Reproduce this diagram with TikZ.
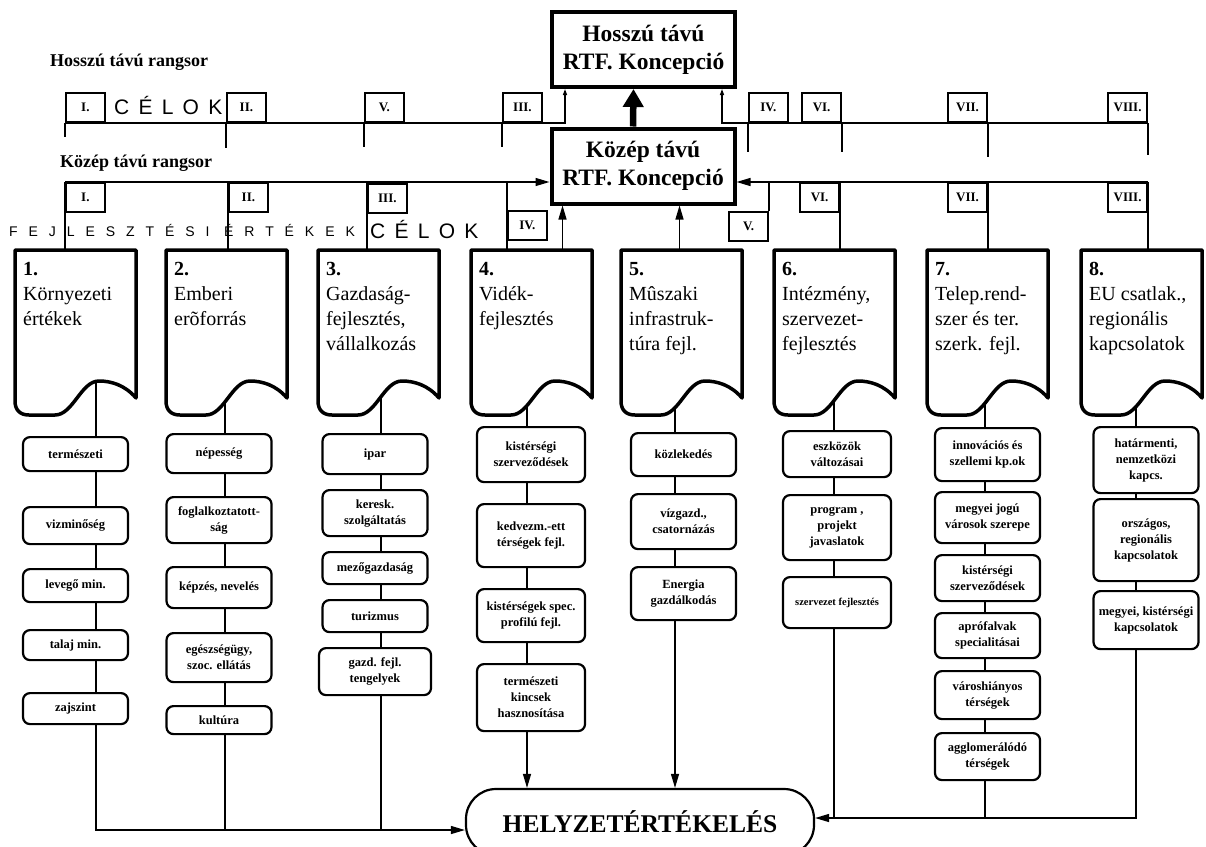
\documentclass[tikz,border=0pt]{standalone}
\usepackage{fontspec}
\setmainfont{Liberation Serif}
\newfontfamily\celokfont[LetterSpace=44]{Liberation Sans}
\newfontfamily\ertekfont[LetterSpace=78]{Liberation Sans}
\usetikzlibrary{arrows.meta,positioning,calc}
\tikzset{
    link/.style={line width=1.3pt},
    tip/.style={-{Triangle[length=14pt, width=8pt]}},
    smalltip/.style={-{Triangle[length=6pt, width=4pt]}},
    bigarrow/.style={-{Triangle[length=18pt, width=20pt]}, line width=6.5pt},
    concept/.style={draw, line width=4pt, minimum width=183pt, minimum height=75pt, align=center, font=\fontsize{23.5}{28}\selectfont\bfseries},
    rank/.style={draw, line width=1.8pt, minimum width=39pt, minimum height=29pt, inner sep=0pt, font=\fontsize{13}{15}\selectfont\bfseries},
    item/.style={draw, anchor=north, line width=2.2pt, rounded corners=7pt, fill=white, minimum width=105pt, align=center, inner sep=2pt, font=\fontsize{12.5}{16}\selectfont\bfseries},
    coltext/.style={anchor=north west, inner sep=0pt, align=left, font=\fontsize{20}{25}\selectfont},
    docline/.style={line width=3.5pt, line join=round, fill=white},
    rangsor/.style={anchor=west, inner sep=0pt, font=\fontsize{18}{21}\selectfont\bfseries},
    celok/.style={anchor=west, inner sep=0pt, font=\celokfont\fontsize{21}{24}\selectfont}
}
\newcommand{\docbox}[3]{%
    \begin{scope}[xshift=#2pt]
        \draw[docline] (0,250) -- (121,250) -- (121,398)
            .. controls (110,385) and (96,381) .. (84,381)
            .. controls (66,381) and (58,415) .. (40,415)
            -- (14,415) .. controls (5,415) and (0,410) .. (0,401) -- cycle;
        \node[inner sep=0pt, minimum width=121pt, minimum height=148pt, anchor=north] (#1) at (60.5,250) {};
        \node[coltext] (#1-label) at (8,262) {#3};
    \end{scope}}

\begin{document}
\begin{tikzpicture}[x=1pt, y=-1pt]
\useasboundingbox (0,0) rectangle (1206,846);

% concepts
\node[concept] (hosszu) at (643.5,49.5) {Hosszú távú\\RTF. Koncepció};
\node[concept] (kozep) at (643,166) {Közép távú\\RTF. Koncepció};
\node[rangsor] (hosszurang) at (50,62) {Hosszú távú rangsor};
\node[rangsor] (kozeprang) at (60,163) {Közép távú rangsor};

% long term goals
\node[rank, anchor=south west] (h1) at (65,123) {I.};
\node[rank, anchor=south west] (h2) at (226,123) {II.};
\node[rank, anchor=south west] (h5) at (364,123) {V.};
\node[rank, anchor=south west] (h3) at (502,123) {III.};
\node[rank, anchor=south west] (h4) at (748,123) {IV.};
\node[rank, anchor=south east] (h6) at (842,123) {VI.};
\node[rank, anchor=south east] (h7) at (988,123) {VII.};
\node[rank, anchor=south east] (h8) at (1148,123) {VIII.};
\node[celok] (celok1) at (114,105) {CÉLOK};

% middle term goals
\node[rank, anchor=north west] (k1) at (65,182) {I.};
\node[rank, anchor=north west] (k2) at (228,182) {II.};
\node[rank, anchor=north west] (k3) at (367,183) {III.};
\node[rank, anchor=north west] (k4) at (507,210) {IV.};
\node[rank, anchor=north east] (k5) at (769,211) {V.};
\node[rank, anchor=north east] (k6) at (840,182) {VI.};
\node[rank, anchor=north east] (k7) at (988,182) {VII.};
\node[rank, anchor=north east] (k8) at (1148,182) {VIII.};
\node[anchor=west, inner sep=0pt, font=\ertekfont\fontsize{14}{16}\selectfont] (ertekek) at (9,230) {FEJLESZTÉSI ÉRTÉKEK};
\node[celok] (celok2) at (370,229) {CÉLOK};

% fields
\docbox{c1}{15}{\textbf{1.}\\Környezeti\\értékek}
\docbox{c2}{166}{\textbf{2.}\\Emberi\\erõforrás}
\docbox{c3}{318}{\textbf{3.}\\Gazdaság-\\fejlesztés,\\vállalkozás}
\docbox{c4}{471}{\textbf{4.}\\Vidék-\\fejlesztés}
\docbox{c5}{621}{\textbf{5.}\\Mûszaki\\infrastruk-\\túra fejl.}
\docbox{c6}{774}{\textbf{6.}\\Intézmény,\\szervezet-\\fejlesztés}
\docbox{c7}{927}{\textbf{7.}\\Telep.rend-\\szer és ter.\\szerk. fejl.}
\docbox{c8}{1081}{\textbf{8.}\\EU csatlak.,\\regionális\\kapcsolatok}

% items
\node[item, minimum height=34pt] (i11) at (75.5,436) {természeti};
\node[item, minimum height=37pt] (i12) at (75.5,506) {vizminőség};
\node[item, minimum height=33pt] (i13) at (75.5,568) {levegő min.};
\node[item, minimum height=30pt] (i14) at (75.5,629) {talaj min.};
\node[item, minimum height=31pt] (i15) at (75.5,692) {zajszint};

\node[item, minimum height=39pt] (i21) at (219,433) {népesség};
\node[item, minimum height=46pt] (i22) at (219,496) {foglalkoztatott-\\ság};
\node[item, minimum height=41pt] (i23) at (219,566) {képzés, nevelés};
\node[item, minimum height=49pt] (i24) at (219,632) {egészségügy,\\szoc. ellátás};
\node[item, minimum height=28pt] (i25) at (219,705) {kultúra};

\node[item, minimum height=40pt] (i31) at (375,433) {ipar};
\node[item, minimum height=46pt] (i32) at (375,489) {keresk.\\szolgáltatás};
\node[item, minimum height=32pt] (i33) at (375,551) {mezőgazdaság};
\node[item, minimum height=32pt] (i34) at (375,599) {turizmus};
\node[item, minimum height=47pt, minimum width=112pt] (i35) at (375,647) {gazd. fejl.\\tengelyek};

\node[item, minimum height=55pt, minimum width=108pt] (i41) at (531,426) {kistérségi\\szerveződések};
\node[item, minimum height=63pt, minimum width=108pt] (i42) at (531,503) {kedvezm.-ett\\térségek fejl.};
\node[item, minimum height=53pt, minimum width=108pt] (i43) at (531,588) {kistérségek spec.\\profilú fejl.};
\node[item, minimum height=67pt, minimum width=108pt] (i44) at (531,663) {természeti\\kincsek\\hasznosítása};

\node[item, minimum height=43pt] (i51) at (683.5,432) {közlekedés};
\node[item, minimum height=55pt] (i52) at (683.5,493) {vízgazd.,\\csatornázás};
\node[item, minimum height=53pt] (i53) at (683.5,566) {Energia\\gazdálkodás};

\node[item, minimum height=46pt, minimum width=108pt] (i61) at (837,430) {eszközök\\változásai};
\node[item, minimum height=65pt, minimum width=108pt] (i62) at (837,494) {program ,\\projekt\\javaslatok};
\node[item, minimum height=51pt, minimum width=108pt, font=\fontsize{10.5}{13}\selectfont\bfseries] (i63) at (837,576) {szervezet fejlesztés};

\node[item, minimum height=53pt] (i71) at (987.5,427) {innovációs és\\szellemi kp.ok};
\node[item, minimum height=51pt] (i72) at (987.5,491) {megyei jogú\\városok szerepe};
\node[item, minimum height=46pt] (i73) at (987.5,554) {kistérségi\\szerveződések};
\node[item, minimum height=45pt] (i74) at (987.5,612) {aprófalvak\\specialitásai};
\node[item, minimum height=48pt] (i75) at (987.5,670) {városhiányos\\térségek};
\node[item, minimum height=47pt] (i76) at (987.5,732) {agglomerálódó\\térségek};

\node[item, minimum height=66pt] (i81) at (1146,426) {határmenti,\\nemzetközi\\kapcs.};
\node[item, minimum height=82pt] (i82) at (1146,498) {országos,\\regionális\\kapcsolatok};
\node[item, minimum height=58pt] (i83) at (1146,590) {megyei, kistérségi\\kapcsolatok};

\node[draw, line width=2.2pt, rounded corners=30pt, minimum width=348pt, minimum height=66pt, font=\fontsize{25.5}{30}\selectfont\bfseries] (helyzet) at (640,822) {HELYZETÉRTÉKELÉS};
\coordinate (hin) at ([yshift=-8pt]helyzet.west);
\coordinate (hout) at ([yshift=4pt]helyzet.east);

% hang points under the fields
\coordinate (j1) at (96,382);
\coordinate (j2) at (225,400);
\coordinate (j3) at (381,397);
\coordinate (j4) at (527,405);
\coordinate (j5) at (675,407);
\coordinate (j6) at (834,399);
\coordinate (j7) at (985,402);
\coordinate (j8) at (1136,406);
\coordinate (u4) at ([xshift=31pt]c4.north);
\coordinate (u5) at ([xshift=-2pt]c5.north);

% long term line
\draw[link, smalltip] (h1.south west) -| ([xshift=15pt]hosszu.south west);
\draw[link, smalltip] (h8.south east) -| ([xshift=-15pt]hosszu.south east);
\draw[link] (h1.south west) -- ++(0,14);
\draw[link] (h2.south west) -- ++(0,25);
\draw[link] (h5.south west) -- ++(0,24);
\draw[link] (h3.south west) -- ++(0,24);
\draw[link] (h4.south west) -- ++(0,29);
\draw[link] (h6.south east) -- ++(0,29);
\draw[link] (h7.south east) -- ++(0,34);
\draw[link] (h8.south east) -- ++(0,32);
\draw[bigarrow] ([xshift=-10pt]kozep.north) -- ([xshift=-10pt]hosszu.south);

% middle term line
\draw[link, tip] (k1.north west) -- ([yshift=-16pt]kozep.west);
\draw[link, tip] (k8.north east) -- ([yshift=-16pt]kozep.east);
\draw[link] (k1.north west) -- (k1.north west |- c1.north);
\draw[link] (k2.north west |- k1.north west) -- (k2.north west |- c2.north);
\draw[link] (k3.north west |- k1.north west) -- (k3.north west |- c3.north);
\draw[link] (k4.north west |- k1.north west) -- (k4.north west |- c4.north);
\draw[link] (k5.north east |- k1.north west) -- (k5.north east);
\draw[link] (k6.north east) -- (k6.north east |- c6.north);
\draw[link] (k7.north east) -- (k7.north east |- c7.north);
\draw[link] (k8.north east) -- (k8.north east |- c8.north);
\draw[link, tip] (u4) -- (u4 |- kozep.south);
\draw[link, tip] (u5) -- (u5 |- kozep.south);

% item chains
\draw[link] (j1) -- (j1 |- i11.north) (i11.south -| j1) -- (i12.north -| j1)
    (i12.south -| j1) -- (i13.north -| j1) (i13.south -| j1) -- (i14.north -| j1)
    (i14.south -| j1) -- (i15.north -| j1);
\draw[link, tip] (i15.south -| j1) -- (j1 |- hin) -- (hin);
\draw[link] (j2) -- (j2 |- i21.north) (i21.south -| j2) -- (i22.north -| j2)
    (i22.south -| j2) -- (i23.north -| j2) (i23.south -| j2) -- (i24.north -| j2)
    (i24.south -| j2) -- (i25.north -| j2) (i25.south -| j2) -- (j2 |- hin);
\draw[link] (j3) -- (j3 |- i31.north) (i31.south -| j3) -- (i32.north -| j3)
    (i32.south -| j3) -- (i33.north -| j3) (i33.south -| j3) -- (i34.north -| j3)
    (i34.south -| j3) -- (i35.north -| j3) (i35.south -| j3) -- (j3 |- hin);
\draw[link] (j4) -- (j4 |- i41.north) (i41.south -| j4) -- (i42.north -| j4)
    (i42.south -| j4) -- (i43.north -| j4) (i43.south -| j4) -- (i44.north -| j4);
\draw[link, tip] (i44.south -| j4) -- (j4 |- helyzet.north);
\draw[link] (j5) -- (j5 |- i51.north) (i51.south -| j5) -- (i52.north -| j5)
    (i52.south -| j5) -- (i53.north -| j5);
\draw[link, tip] (i53.south -| j5) -- (j5 |- helyzet.north);
\draw[link] (j6) -- (j6 |- i61.north) (i61.south -| j6) -- (i62.north -| j6)
    (i62.south -| j6) -- (i63.north -| j6) (i63.south -| j6) -- (j6 |- hout);
\draw[link] (j7) -- (j7 |- i71.north) (i71.south -| j7) -- (i72.north -| j7)
    (i72.south -| j7) -- (i73.north -| j7) (i73.south -| j7) -- (i74.north -| j7)
    (i74.south -| j7) -- (i75.north -| j7) (i75.south -| j7) -- (i76.north -| j7)
    (i76.south -| j7) -- (j7 |- hout);
\draw[link] (j8) -- (j8 |- i81.north) (i81.south -| j8) -- (i82.north -| j8)
    (i82.south -| j8) -- (i83.north -| j8);
\draw[link, tip] (i83.south -| j8) -- (j8 |- hout) -- (hout);
\end{tikzpicture}
\end{document}
